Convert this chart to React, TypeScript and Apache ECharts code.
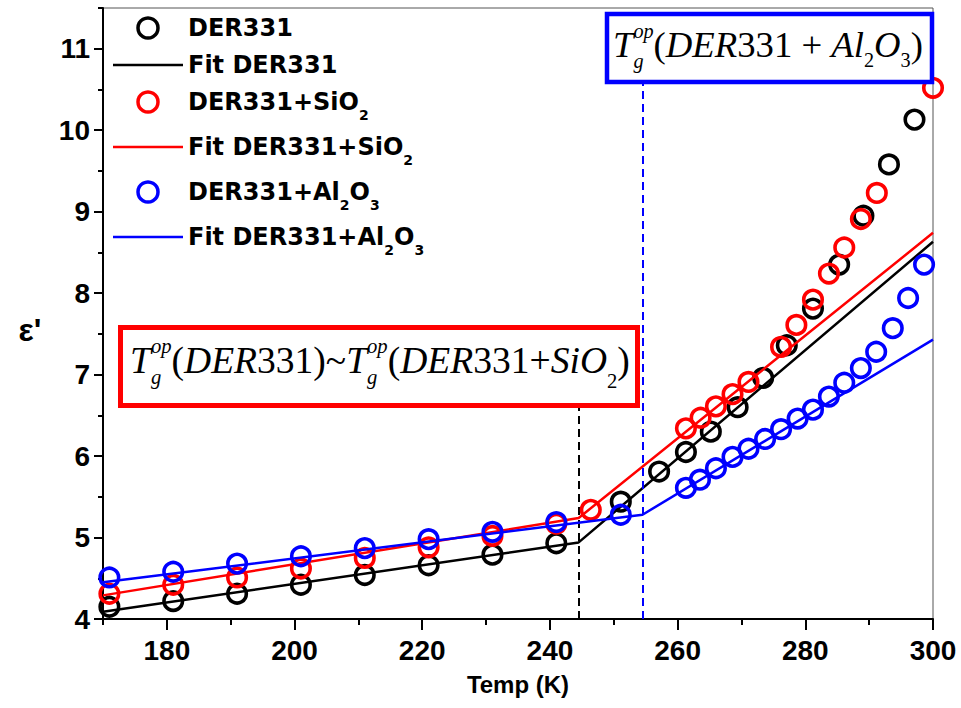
import React, { useEffect, useRef } from 'react';
import * as echarts from 'echarts';

// ---- data ----
const X_MIN = 170;
const X_MAX = 300;
const Y_MIN = 4;
const Y_MAX = 11.5;
const X_MAJOR = [180, 200, 220, 240, 260, 280, 300];
const X_MINOR = [170, 190, 210, 230, 250, 270, 290];
const Y_MAJOR = [4, 5, 6, 7, 8, 9, 10, 11];
const Y_MINOR = [4.5, 5.5, 6.5, 7.5, 8.5, 9.5, 10.5, 11.5];

const BLACK_T = [171, 181, 191, 201, 211, 221, 231, 241, 251.1, 257.1, 261.3, 265.2, 269.4, 273.4, 277.1, 281.2, 285.3, 289.1, 293.1, 297.1];
const BLACK_V = [4.15, 4.22, 4.31, 4.42, 4.54, 4.66, 4.79, 4.93, 5.44, 5.81, 6.05, 6.3, 6.6, 6.96, 7.36, 7.81, 8.35, 8.95, 9.58, 10.13];

const RED_T = [171, 181, 191, 201, 211, 221, 231, 241, 246.4, 261.3, 263.6, 266, 268.6, 271.1, 276.2, 278.6, 281.2, 283.7, 286.1, 288.7, 291.2, 300];
const RED_V = [4.31, 4.42, 4.51, 4.62, 4.75, 4.88, 5.02, 5.17, 5.34, 6.34, 6.47, 6.61, 6.76, 6.91, 7.34, 7.61, 7.92, 8.24, 8.56, 8.91, 9.23, 10.52];

const BLUE_T = [171, 181, 191, 201, 211, 221, 231, 241, 251.1, 261.3, 263.5, 266, 268.6, 271.1, 273.7, 276.2, 278.8, 281.2, 283.7, 286.1, 288.7, 291.1, 293.7, 296.1, 298.6];
const BLUE_V = [4.51, 4.58, 4.68, 4.77, 4.87, 4.98, 5.07, 5.19, 5.28, 5.61, 5.71, 5.85, 5.99, 6.09, 6.21, 6.33, 6.46, 6.57, 6.73, 6.9, 7.08, 7.28, 7.57, 7.94, 8.35];

const BLACK_FIT_T = [170, 244.5, 300];
const BLACK_FIT_V = [4.09, 4.94, 8.63];
const RED_FIT_T = [170, 244.5, 300];
const RED_FIT_V = [4.29, 5.24, 8.74];
const BLUE_FIT_T = [170, 254.5, 300];
const BLUE_FIT_V = [4.45, 5.28, 7.43];

const TG_DER = 244.5; // Tg(DER331) ~ Tg(DER331+SiO2)
const TG_DER_TOP = 6.62;
const TG_AL = 254.5; // Tg(DER331+Al2O3)
const TG_AL_TOP = 10.58;

const NAMES = ['DER331', 'Fit DER331', 'DER331+SiO2', 'Fit DER331+SiO2', 'DER331+Al2O3', 'Fit DER331+Al2O3'];
const LEGEND_RICH: Record<string, string> = {
  'DER331': '{p|DER331}',
  'Fit DER331': '{p|Fit DER331}',
  'DER331+SiO2': '{b|DER331+SiO}{s|2}',
  'Fit DER331+SiO2': '{b|Fit DER331+SiO}{s|2}',
  'DER331+Al2O3': '{b|DER331+Al}{s|2}{b|O}{s|3}',
  'Fit DER331+Al2O3': '{b|Fit DER331+Al}{s|2}{b|O}{s|3}',
};

const SANS = '"Liberation Sans", Arial, sans-serif';
const LEG = '"DejaVu Sans", "Liberation Sans", sans-serif';
const SERIF = '"Liberation Serif", "Times New Roman", serif';
const LINE_ICON = 'path://M0,0 L70,0 L70,2.5 L0,2.5 Z';

const zip = (a: number[], b: number[]) => a.map((v, i) => [v, b[i]]);

type Seg = { t: string; it?: boolean; rel?: number; dy?: number; stack?: boolean };

function mathText(segs: Seg[], x0: number, x1: number, baseline: number, S0: number, color: string) {
  const ctx = document.createElement('canvas').getContext('2d')!;
  const natural = (S: number) => {
    let x = 0;
    let stackW = 0;
    const items: any[] = [];
    for (const sg of segs) {
      const size = S * (sg.rel ?? 1);
      ctx.font = `${sg.it ? 'italic ' : ''}${size}px ${SERIF}`;
      const w = ctx.measureText(sg.t).width;
      items.push({ ...sg, size, x });
      if (sg.stack) {
        stackW = w;
      } else {
        x += Math.max(w, stackW);
        stackW = 0;
      }
    }
    return { items, width: x };
  };
  const first = natural(S0);
  const S = S0 * (x1 - x0) / first.width;
  const { items } = natural(S);
  return items.map((it) => ({
    type: 'text',
    x: x0 + it.x,
    y: baseline + (it.dy ?? 0) * S - 0.3375 * it.size,
    z: 110,
    style: {
      text: it.t,
      fontSize: it.size,
      fontFamily: SERIF,
      fontStyle: it.it ? 'italic' : 'normal',
      fontWeight: 'normal',
      fill: color,
      align: 'left',
      verticalAlign: 'middle',
    },
  }));
}

const TG_SEGS: Seg[] = [
  { t: 'T', it: true },
  { t: 'op', it: true, rel: 0.55, dy: -0.52, stack: true },
  { t: 'g', it: true, rel: 0.55, dy: 0.3 },
];

export default function App() {
  const ref = useRef<HTMLDivElement>(null);
  useEffect(() => {
    document.body.style.margin = '0';
    const chart = echarts.init(ref.current!, null, { renderer: 'svg' });

    const redText = mathText(
      [
        ...TG_SEGS,
        { t: '(' }, { t: 'DER', it: true }, { t: '331)~' },
        ...TG_SEGS,
        { t: '(' }, { t: 'DER', it: true }, { t: '331+' }, { t: 'SiO', it: true },
        { t: '2', rel: 0.55, dy: 0.4 }, { t: ')' },
      ],
      130, 630, 373, 36, '#000'
    );
    const blueText = mathText(
      [
        ...TG_SEGS,
        { t: '(' }, { t: 'DER', it: true }, { t: '331 + ' }, { t: 'Al', it: true },
        { t: '2', rel: 0.55, dy: 0.28 }, { t: 'O', it: true }, { t: '3', rel: 0.55, dy: 0.28 }, { t: ')' },
      ],
      613, 923, 57, 36, '#000'
    );

    const scatterStyle = (c: string) => ({
      type: 'scatter',
      symbol: 'circle',
      symbolSize: 18.5,
      itemStyle: { color: 'transparent', borderColor: c, borderWidth: 3.6, opacity: 1 },
      emphasis: { disabled: true },
      silent: true,
    });
    const lineStyle = (c: string) => ({
      type: 'line',
      symbol: 'none',
      lineStyle: { color: c, width: 2.5 },
      itemStyle: { color: c },
      emphasis: { disabled: true },
      silent: true,
    });

    const legendData = NAMES.map((n) =>
      n.startsWith('Fit') ? { name: n, icon: LINE_ICON, itemStyle: { borderWidth: 0 } } : { name: n }
    );

    const option: any = {
      animation: false,
      backgroundColor: '#fff',
      grid: {
        left: 103, right: 28, top: 8, bottom: 89,
        show: true, borderColor: '#555', borderWidth: 1,
        containLabel: false, outerBoundsMode: 'none',
      },
      xAxis: [
        {
          type: 'value', min: X_MIN, max: X_MAX, position: 'bottom',
          name: 'Temp (K)', nameLocation: 'middle', nameGap: 53,
          nameTextStyle: { fontSize: 24, fontWeight: 'bold', fontFamily: SANS, color: '#000' },
          axisLine: { show: true, onZero: false, lineStyle: { color: '#000', width: 2 } },
          axisTick: { show: true, customValues: X_MAJOR, length: 11, lineStyle: { color: '#000', width: 2 } },
          axisLabel: { customValues: X_MAJOR, fontSize: 28, fontWeight: 'bold', fontFamily: SANS, color: '#000', margin: 17 },
          splitLine: { show: false },
        },
        {
          type: 'value', min: X_MIN, max: X_MAX, position: 'bottom',
          axisLine: { show: false },
          axisTick: { show: true, customValues: X_MINOR, length: 6, lineStyle: { color: '#000', width: 2 } },
          axisLabel: { show: false },
          splitLine: { show: false },
        },
      ],
      yAxis: [
        {
          type: 'value', min: Y_MIN, max: Y_MAX, position: 'left',
          axisLine: { show: true, onZero: false, lineStyle: { color: '#000', width: 2 } },
          axisTick: { show: true, customValues: Y_MAJOR, length: 9, lineStyle: { color: '#000', width: 2 } },
          axisLabel: { customValues: Y_MAJOR, fontSize: 28, fontWeight: 'bold', fontFamily: SANS, color: '#000', margin: 13 },
          splitLine: { show: false },
        },
        {
          type: 'value', min: Y_MIN, max: Y_MAX, position: 'left',
          axisLine: { show: false },
          axisTick: { show: true, customValues: Y_MINOR, length: 5, lineStyle: { color: '#000', width: 2 } },
          axisLabel: { show: false },
          splitLine: { show: false },
        },
      ],
      legend: {
        data: legendData,
        orient: 'vertical',
        left: 113, top: 16, padding: 0,
        itemWidth: 70, itemHeight: 20, itemGap: 13,
        selectedMode: false,
        itemStyle: { borderWidth: 3.5 },
        lineStyle: { width: 2.5 },
        formatter: (name: string) => LEGEND_RICH[name] ?? name,
        textStyle: {
          fontSize: 24, fontWeight: 'bold', fontFamily: LEG, color: '#000',
          rich: {
            p: { fontSize: 24, fontWeight: 'bold', fontFamily: LEG, color: '#000', lineHeight: 24 },
            b: { fontSize: 24, fontWeight: 'bold', fontFamily: LEG, color: '#000', lineHeight: 40 },
            s: { fontSize: 14, fontWeight: 'bold', fontFamily: LEG, color: '#000', lineHeight: 4, verticalAlign: 'bottom' },
          },
        },
      },
      series: [
        { ...scatterStyle('#000'), name: NAMES[0], data: zip(BLACK_T, BLACK_V), z: 3 },
        {
          ...lineStyle('#000'), name: NAMES[1], data: zip(BLACK_FIT_T, BLACK_FIT_V), z: 2,
          markLine: {
            silent: true, symbol: ['none', 'none'], label: { show: false },
            lineStyle: { color: '#000', width: 2, type: [8, 5] },
            data: [[{ coord: [TG_DER, Y_MIN] }, { coord: [TG_DER, TG_DER_TOP] }]],
          },
        },
        { ...scatterStyle('#ff0000'), name: NAMES[2], data: zip(RED_T, RED_V), z: 5 },
        { ...lineStyle('#ff0000'), name: NAMES[3], data: zip(RED_FIT_T, RED_FIT_V), z: 4 },
        { ...scatterStyle('#0000ff'), name: NAMES[4], data: zip(BLUE_T, BLUE_V), z: 7 },
        {
          ...lineStyle('#0000ff'), name: NAMES[5], data: zip(BLUE_FIT_T, BLUE_FIT_V), z: 6,
          markLine: {
            silent: true, symbol: ['none', 'none'], label: { show: false },
            lineStyle: { color: '#0000ff', width: 2, type: [8, 5] },
            data: [[{ coord: [TG_AL, Y_MIN] }, { coord: [TG_AL, TG_AL_TOP] }]],
          },
        },
      ],
      graphic: [
        {
          type: 'text', x: 30, y: 330, z: 100,
          style: { text: "ε'", fontSize: 32, fontWeight: 'bold', fontFamily: SANS, fill: '#000', align: 'center', verticalAlign: 'middle' },
        },
        {
          type: 'rect', z: 100,
          shape: { x: 120.5, y: 327.5, width: 517, height: 78 },
          style: { fill: '#fff', stroke: '#ff0000', lineWidth: 5 },
        },
        {
          type: 'rect', z: 100,
          shape: { x: 607, y: 14, width: 325, height: 68 },
          style: { fill: '#fff', stroke: '#0000ff', lineWidth: 4.5 },
        },
        ...redText,
        ...blueText,
      ],
    };
    chart.setOption(option);
    return () => chart.dispose();
  }, []);
  return <div ref={ref} style={{ width: 961, height: 708 }} />;
}
